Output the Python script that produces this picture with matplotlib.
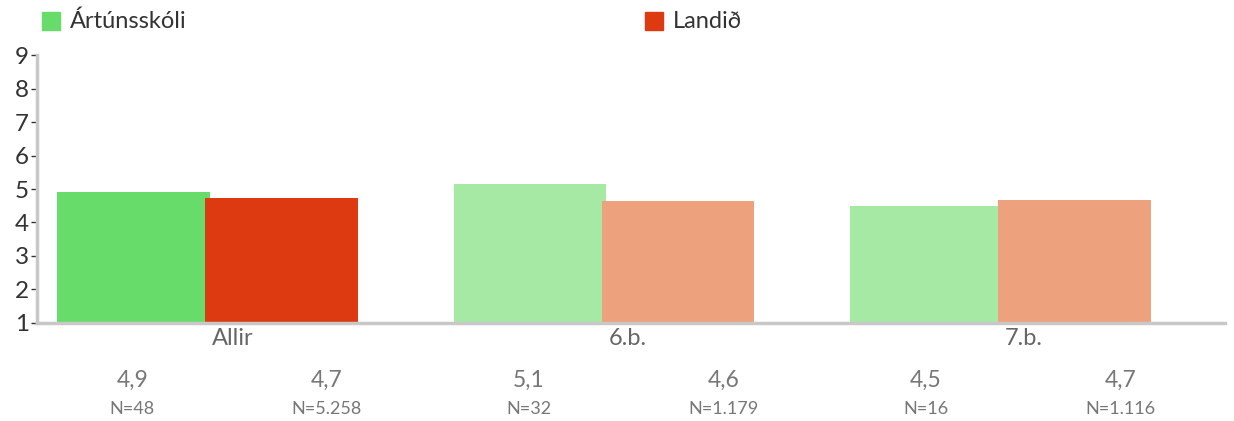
import matplotlib.pyplot as plt
import numpy as np

# Gögn ###############################################################################
flokkar = ["Allir", "6.b.", "7.b."]
skoli = [4.91, 5.14, 4.50]
landid = [4.74, 4.65, 4.66]
skoli_txt = ["4,9", "5,1", "4,5"]
landid_txt = ["4,7", "4,6", "4,7"]
skoli_n = ["N=48", "N=32", "N=16"]
landid_n = ["N=5.258", "N=1.179", "N=1.116"]

plt.rcParams['font.family'] = ['Lato', 'DejaVu Sans']

litir_skoli = ["#67DC6A", "#A5E9A5", "#A5E9A5"]
litir_landid = ["#DE3A12", "#EEA17D", "#EEA17D"]

fig = plt.figure(figsize=(12.34, 4.21), dpi=100)
ax = fig.add_axes([0.030, 0.233, 0.963, 0.636])

x = np.arange(len(flokkar))
b = 0.385
ax.bar(x - b / 2 + 0.005, skoli, width=b, color=litir_skoli, zorder=2)
ax.bar(x + b / 2 - 0.007, landid, width=b, color=litir_landid, zorder=2)

ax.set_xlim(-0.43, 2.565)
ax.set_ylim(1, 9)
ax.set_yticks(range(1, 10))
ax.set_xticks([])
ax.tick_params(axis='y', length=4, width=1, color="#333333", labelsize=17.5,
               labelcolor="#333333", pad=2)
for s in ["top", "right"]:
    ax.spines[s].set_visible(False)
for s in ["left", "bottom"]:
    ax.spines[s].set_color("#C8C8C8")
    ax.spines[s].set_linewidth(2.5)
ax.spines["bottom"].set_zorder(3)

# Merkingar undir ásnum
trans = ax.get_xaxis_transform()
for i in range(len(flokkar)):
    ax.text(x[i] + 0.01, -0.06, flokkar[i], transform=trans,
            ha='left', va='center', fontsize=17, color="#666666")
    ax.text(x[i] - 0.19, -0.215, skoli_txt[i], transform=trans,
            ha='center', va='center', fontsize=16.5, color="#777777")
    ax.text(x[i] + 0.30, -0.215, landid_txt[i], transform=trans,
            ha='center', va='center', fontsize=16.5, color="#777777")
    ax.text(x[i] - 0.19, -0.32, skoli_n[i], transform=trans,
            ha='center', va='center', fontsize=13, color="#777777")
    ax.text(x[i] + 0.30, -0.32, landid_n[i], transform=trans,
            ha='center', va='center', fontsize=13, color="#777777")

# Skýringar
fig.patches.append(plt.Rectangle((42 / 1234, 1 - 30 / 421), 18 / 1234, 18 / 421,
                                  transform=fig.transFigure, color="#67DC6A"))
fig.text(70 / 1234, 1 - 21 / 421, "Ártúnsskóli", ha='left', va='center',
         fontsize=17, color="#333333")
fig.patches.append(plt.Rectangle((645 / 1234, 1 - 30 / 421), 18 / 1234, 18 / 421,
                                 transform=fig.transFigure, color="#DE3A12"))
fig.text(673 / 1234, 1 - 21 / 421, "Landið", ha='left', va='center',
         fontsize=17, color="#333333")

fig.savefig("out.png", dpi=100)
